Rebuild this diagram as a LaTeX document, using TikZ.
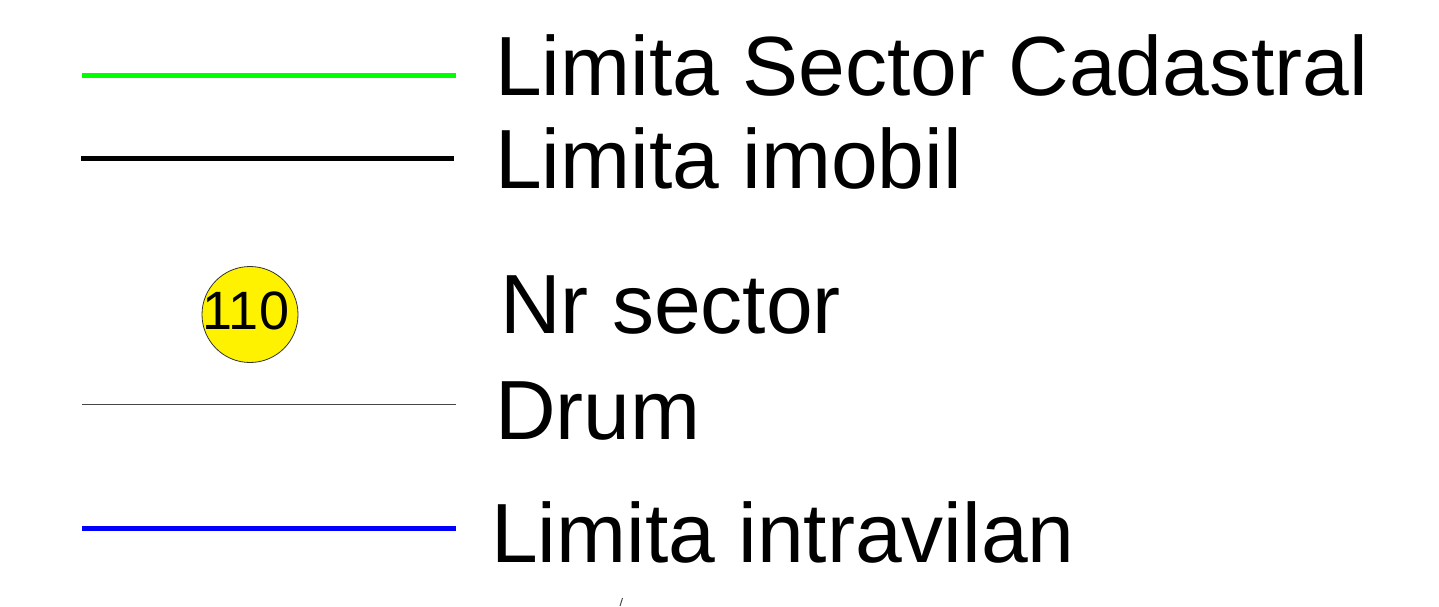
\documentclass[tikz,border=0pt]{standalone}
\usepackage{fontspec}
\setmainfont{Liberation Sans}
\definecolor{limgreen}{RGB}{0,255,0}
\definecolor{limblue}{RGB}{0,0,255}
\definecolor{roadgray}{RGB}{70,70,70}
\tikzset{
  legtext/.style={anchor=base west, inner sep=0pt, font=\fontsize{84}{84}\selectfont},
  sectorline/.style={draw=limgreen, line width=4.5pt},
  imobline/.style={draw=black, line width=5pt},
  roadline/.style={draw=roadgray, line width=1.3pt},
  intraline/.style={draw=limblue, line width=5pt},
  sectorbadge/.style={circle, draw=black!80, line width=0.8pt, fill=yellow, minimum size=96pt, inner sep=0pt}
}
\begin{document}
\begin{tikzpicture}[x=1pt,y=-1pt]
\useasboundingbox (0,0) rectangle (1439,606);
% legend lines
\coordinate (g1) at (82,75.5); \coordinate (g2) at (456,75.5);
\coordinate (k1) at (81,158.5); \coordinate (k2) at (454,158.5);
\coordinate (d1) at (82,404.8); \coordinate (d2) at (456,404.8);
\coordinate (b1) at (82,528); \coordinate (b2) at (456,528);
\draw[sectorline] (g1) -- (g2);
\draw[imobline] (k1) -- (k2);
\draw[roadline] (d1) -- (d2);
\draw[intraline] (b1) -- (b2);
% sector badge
\node[sectorbadge] (badge) at (250,314.5) {};
\node[anchor=base, inner sep=0pt, font=\fontsize{54}{54}\selectfont] (badgetxt) at (246,329) {110};
% labels
\node[legtext] (t1) at (495,95) {Limita Sector Cadastral};
\node[legtext] (t2) at (495,188) {Limita imobil};
\node[legtext] (t3) at (500,333) {Nr sector};
\node[legtext] (t4) at (495,439) {Drum};
\node[legtext] (t5) at (491,562.7) {Limita intravilan};
% small stray tick
\coordinate (s1) at (622.5,598); \coordinate (s2) at (620,606);
\draw[roadgray, line width=1pt] (s1) -- (s2);
\end{tikzpicture}
\end{document}
